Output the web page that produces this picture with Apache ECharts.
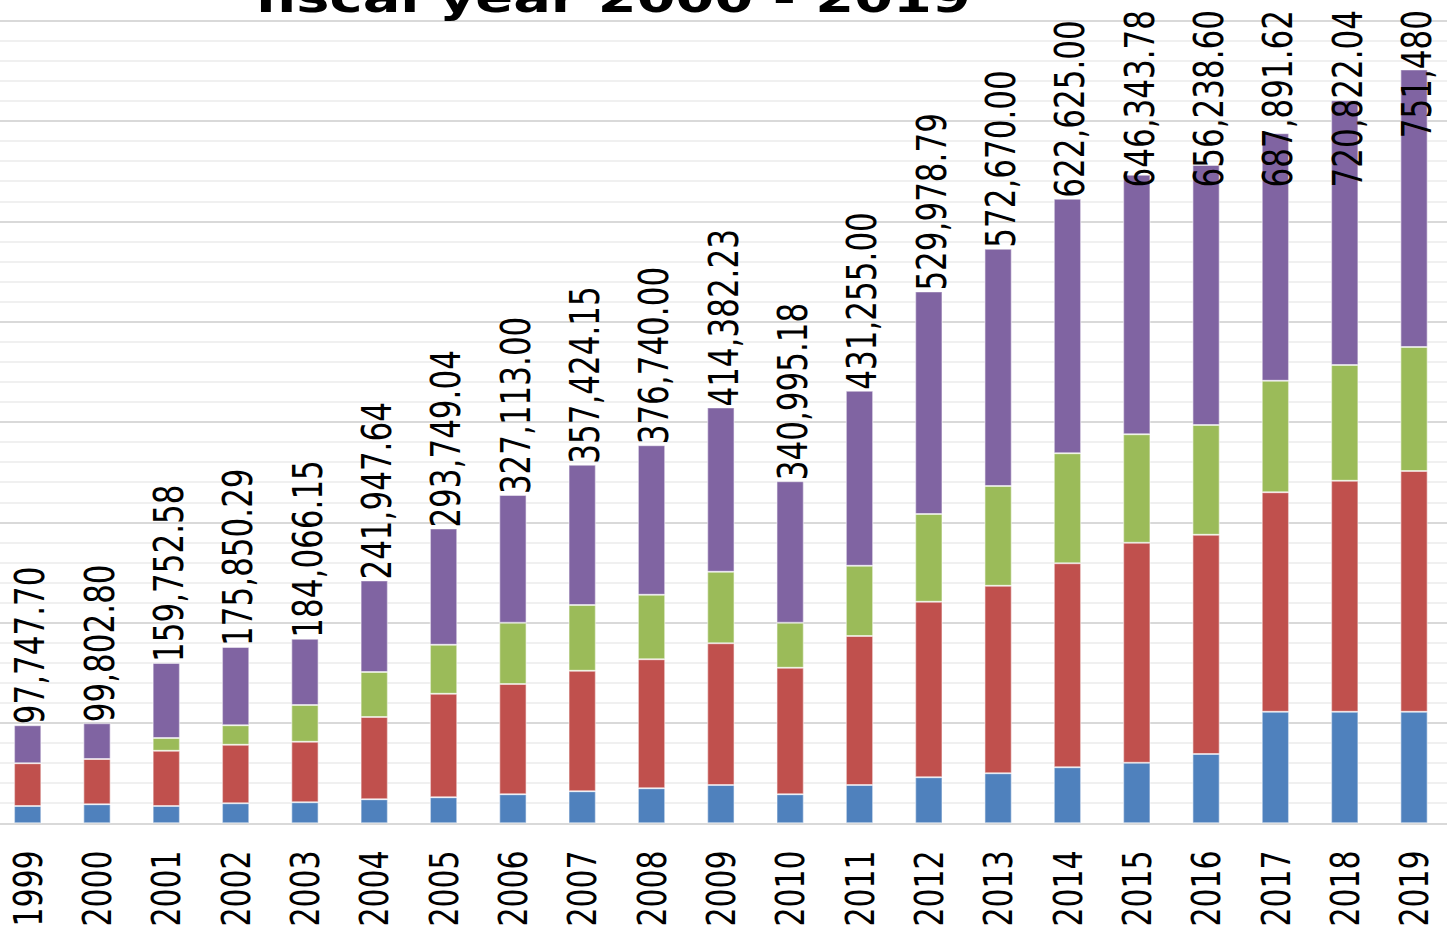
<!DOCTYPE html>
<html>
<head>
<meta charset="utf-8">
<title>fiscal year 2000 - 2019</title>
<script src="https://cdn.jsdelivr.net/npm/echarts@6/dist/echarts.min.js"></script>
<style>
  html, body { margin: 0; padding: 0; background: #ffffff; overflow: hidden; width: 1447px; height: 933px; position: relative; }
  #chart { position: absolute; top: 0; height: 933px; transform-origin: 0 0; }
</style>
</head>
<body>
<div id="chart"></div>
<script>
// Fiscal years on the category axis
const years = ['1999', '2000', '2001', '2002', '2003', '2004', '2005', '2006', '2007', '2008', '2009',
               '2010', '2011', '2012', '2013', '2014', '2015', '2016', '2017', '2018', '2019'];

// Stacked components, bottom to top
const blueValues = [17200, 18900, 17200, 19900, 20900, 23900, 25900, 28900, 31900, 34900, 38200,
                    28900, 38200, 45900, 49800, 55800, 60400, 69100, 111200, 111200, 111200];
const redValues = [42600, 45200, 55200, 58400, 60400, 82000, 103300, 109900, 120200, 128600, 141200,
                   126200, 148500, 175000, 187000, 203300, 219300, 218600, 218700, 230300, 239900];
const greenValues = [0, 0, 12600, 19400, 36600, 44900, 48800, 61100, 65500, 64400, 71400,
                     44900, 70100, 87400, 99400, 109700, 108000, 109300, 111200, 115300, 123600];
const purpleValues = [37947.70, 35702.80, 74752.58, 78150.29, 66166.15, 91147.64, 115749.04, 127213.00,
                      139824.15, 148840.00, 163582.23, 140995.18, 174455.00, 221678.79, 236470.00,
                      253825.00, 258643.78, 259238.60, 246791.62, 264022.04, 276780.00];

// Yearly totals as printed above each column
const totalLabels = ['97,747.70', '99,802.80', '159,752.58', '175,850.29', '184,066.15', '241,947.64',
                     '293,749.04', '327,113.00', '357,424.15', '376,740.00', '414,382.23', '340,995.18',
                     '431,255.00', '529,978.79', '572,670.00', '622,625.00', '646,343.78', '656,238.60',
                     '687,891.62', '720,822.04', '751,480'];

const titleText = 'fiscal year 2000 - 2019';

// The whole drawing is widened horizontally by this factor.
const STRETCH = 1.33;
const PAGE_H = 933;
// plot area in page pixels: starts a little left of the page and runs past its right edge
const PLOT_LEFT_PX = -7.5;
const PLOT_WIDTH_PX = 1455.7;
const W = PLOT_WIDTH_PX / STRETCH;

const el = document.getElementById('chart');
el.style.left = PLOT_LEFT_PX + 'px';
el.style.width = W + 'px';
el.style.transform = 'scaleX(' + STRETCH + ')';

const FONT = 'DejaVu Sans';
const LABEL_TOP = 10;

const chart = echarts.init(el, null, { renderer: 'svg', width: W, height: PAGE_H });

function barSeries(name, values, color, withLabel) {
  const s = {
    name: name,
    type: 'bar',
    stack: 'total',
    data: values,
    barCategoryGap: '60%',
    itemStyle: { color: color, borderColor: 'rgba(255,255,255,0.45)', borderWidth: 1 },
    emphasis: { disabled: true }
  };
  if (withLabel) {
    s.label = {
      show: true,
      position: 'top',
      distance: 1,
      rotate: 90,
      align: 'left',
      verticalAlign: 'middle',
      fontFamily: FONT,
      fontSize: 31,
      color: '#000000',
      formatter: function (p) { return totalLabels[p.dataIndex]; }
    };
    // keep labels inside the top of the drawing area
    s.labelLayout = function (p) {
      const r = p.labelRect;
      const top = Math.max(r.y, LABEL_TOP);
      return { x: r.x + r.width / 2 + 2, y: top + r.height };
    };
  }
  return s;
}

chart.setOption({
  animation: false,
  backgroundColor: '#ffffff',
  title: {
    text: titleText,
    left: (250 - PLOT_LEFT_PX) / STRETCH - 1.7,
    top: -28,
    textStyle: { fontFamily: FONT, fontSize: 42, fontWeight: 'bold', color: '#000000' }
  },
  grid: {
    left: 0,
    right: 0,
    top: 20.7,
    bottom: PAGE_H - 823.3,
    containLabel: false,
    outerBoundsMode: 'none'
  },
  xAxis: {
    type: 'category',
    data: years,
    axisLine: { show: true, lineStyle: { color: '#d9d9d9', width: 2 } },
    axisTick: { show: false },
    splitLine: { show: false },
    axisLabel: {
      interval: 0,
      rotate: 90,
      margin: 27,
      fontFamily: FONT,
      fontSize: 30,
      color: '#000000'
    }
  },
  yAxis: {
    type: 'value',
    min: 0,
    max: 800000,
    interval: 100000,
    axisLine: { show: false },
    axisTick: { show: false },
    axisLabel: { show: false },
    splitLine: { show: true, lineStyle: { color: '#d9d9d9', width: 2 } },
    minorTick: { show: false, splitNumber: 5 },
    minorSplitLine: { show: true, lineStyle: { color: '#f0f0f0', width: 2 } }
  },
  series: [
    barSeries('Blue', blueValues, '#4f81bd', false),
    barSeries('Red', redValues, '#c0504d', false),
    barSeries('Green', greenValues, '#9bbb59', false),
    barSeries('Purple', purpleValues, '#8064a2', true)
  ]
});
</script>
</body>
</html>
